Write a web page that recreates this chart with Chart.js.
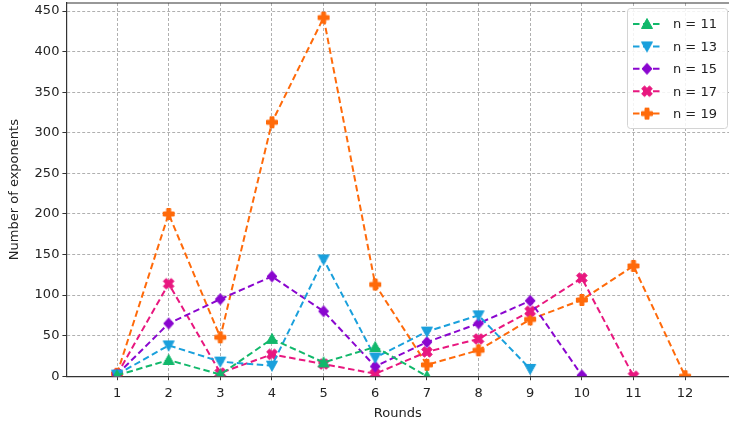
<!DOCTYPE html>
<html>
<head>
  <title>Number of exponents per round</title>
  <script src="https://cdn.jsdelivr.net/npm/chart.js"></script>
  <style>
    body { margin: 0; background: #fff; overflow: hidden; }
    canvas { display: block; }
  </style>
</head>
<body>
  <canvas id="roundsChart" width="729" height="426"></canvas>
  <script>
  const rounds = [1, 2, 3, 4, 5, 6, 7, 8, 9, 10, 11, 12];
  const yTicks = [0, 50, 100, 150, 200, 250, 300, 350, 400, 450];

  const labels = ['n = 11', 'n = 13', 'n = 15', 'n = 17', 'n = 19'];
  const n11 = [1, 20, 2, 46, 17, 36, 0];
  const n13 = [2, 38, 18, 13, 144, 23, 55, 75, 9];
  const n15 = [2, 65, 95, 123, 80, 12, 42, 65, 93, 1];
  const n17 = [2, 114, 4, 27, 15, 3, 30, 46, 80, 121, 0];
  const n19 = [3, 200, 48, 313, 442, 113, 14, 32, 70, 94, 136, 0];

  const colors = ['#12b86b', '#1aa0dc', '#8a06cf', '#e8177f', '#ff6a0a'];
  const shapes = ['up', 'down', 'diamond', 'x', 'plus'];

  // matplotlib-like filled markers drawn onto small canvases
  function makeMarker(shape, color) {
    const s = 14, c = s / 2;
    const cv = document.createElement('canvas');
    cv.width = s; cv.height = s;
    const g = cv.getContext('2d');
    g.fillStyle = color;
    g.strokeStyle = color;
    g.lineWidth = 1;
    g.beginPath();
    if (shape === 'up') {
      g.moveTo(c, c - 5.5); g.lineTo(c + 5.5, c + 4.5); g.lineTo(c - 5.5, c + 4.5);
    } else if (shape === 'down') {
      g.moveTo(c, c + 5.5); g.lineTo(c + 5.5, c - 4.5); g.lineTo(c - 5.5, c - 4.5);
    } else if (shape === 'diamond') {
      g.moveTo(c, c - 5.5); g.lineTo(c + 5, c); g.lineTo(c, c + 5.5); g.lineTo(c - 5, c);
    } else {
      const a = 5.5, t = 2;
      const pts = [[-t, -a], [t, -a], [t, -t], [a, -t], [a, t], [t, t], [t, a], [-t, a], [-t, t], [-a, t], [-a, -t], [-t, -t]];
      const rot = shape === 'x' ? Math.PI / 4 : 0;
      pts.forEach(([px, py], i) => {
        const x = c + px * Math.cos(rot) - py * Math.sin(rot);
        const y = c + px * Math.sin(rot) + py * Math.cos(rot);
        if (i === 0) g.moveTo(x, y); else g.lineTo(x, y);
      });
    }
    g.closePath();
    g.fill();
    g.stroke();
    return cv;
  }

  const markerImgs = shapes.map((sh, i) => makeMarker(sh, colors[i]));

  function toPoints(vals) {
    return vals.map((v, i) => ({ x: rounds[i], y: v }));
  }

  const series = [n11, n13, n15, n17, n19];
  const datasets = series.map((vals, i) => ({
    label: labels[i],
    data: toPoints(vals),
    borderColor: colors[i],
    backgroundColor: colors[i],
    borderWidth: 2,
    borderDash: [6.5, 3.5],
    pointStyle: markerImgs[i],
    pointRadius: 6,
    tension: 0
  }));

  // top spine + legend box in the upper right corner
  const frame = {
    id: 'frame',
    afterDraw(chart) {
      const ctx = chart.ctx;
      const a = chart.chartArea;
      ctx.save();
      ctx.strokeStyle = '#333';
      ctx.lineWidth = 1.2;
      ctx.beginPath();
      ctx.moveTo(a.left, a.top);
      ctx.lineTo(a.right, a.top);
      ctx.stroke();

      const bx = 627, by = 8, bw = 100, bh = 120;
      ctx.fillStyle = 'rgba(255,255,255,0.85)';
      ctx.strokeStyle = '#d4d4d4';
      ctx.lineWidth = 1;
      ctx.beginPath();
      ctx.roundRect(bx + 0.5, by + 0.5, bw, bh, 3);
      ctx.fill();
      ctx.stroke();

      ctx.font = '13px "DejaVu Sans"';
      ctx.textBaseline = 'middle';
      chart.data.datasets.forEach((ds, i) => {
        const y = 24 + i * 22.4;
        ctx.strokeStyle = ds.borderColor;
        ctx.lineWidth = 2;
        ctx.setLineDash([6.5, 3.5]);
        ctx.beginPath();
        ctx.moveTo(633, y);
        ctx.lineTo(662, y);
        ctx.stroke();
        ctx.setLineDash([]);
        ctx.drawImage(markerImgs[i], 647 - 7, y - 7);
        ctx.fillStyle = '#222';
        ctx.fillText(ds.label, 673, y + 1);
      });
      ctx.restore();
    }
  };

  const tickFont = { family: 'DejaVu Sans', size: 13 };
  const ctx = document.getElementById('roundsChart').getContext('2d');
  new Chart(ctx, {
    type: 'line',
    data: { datasets: datasets },
    options: {
      responsive: false,
      animation: false,
      layout: { autoPadding: false, padding: { left: 3, top: 3, right: 0, bottom: 7 } },
      plugins: { legend: { display: false }, tooltip: { enabled: false } },
      scales: {
        x: {
          type: 'linear',
          min: 0.02,
          max: 12.85,
          afterBuildTicks: s => { s.ticks = rounds.map(v => ({ value: v })); },
          afterFit: s => { s.paddingLeft = 0; s.paddingRight = 0; },
          ticks: { color: '#222', font: tickFont, padding: 6, maxRotation: 0 },
          grid: { color: '#b0b0b0', tickColor: '#333', tickLength: 4 },
          border: { color: '#333', width: 1.2, dash: [3, 2] },
          title: { display: true, text: 'Rounds', color: '#222', font: { family: 'DejaVu Sans', size: 13, lineHeight: 0.86 }, padding: 0 }
        },
        y: {
          min: 0,
          max: 460,
          afterBuildTicks: s => { s.ticks = yTicks.map(v => ({ value: v })); },
          afterFit: s => { s.paddingTop = 0; s.paddingBottom = 0; },
          ticks: { color: '#222', font: tickFont, padding: 3 },
          grid: { color: '#b0b0b0', tickColor: '#333', tickLength: 4 },
          border: { color: '#333', width: 1.2, dash: [3, 2] },
          title: { display: true, text: 'Number of exponents', color: '#222', font: tickFont, padding: { bottom: 9 } }
        }
      }
    },
    plugins: [frame]
  });
</script>
</body>
</html>
